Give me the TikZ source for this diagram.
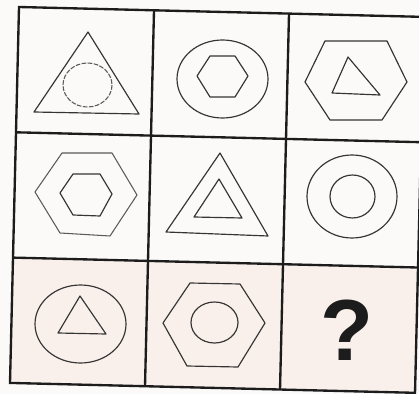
\documentclass[tikz,border=0pt]{standalone}
\usepackage{fontspec}
\setsansfont{Liberation Sans}
\usetikzlibrary{positioning}
\definecolor{PuzzleInk}{HTML}{1C1C1C}
\definecolor{PuzzleLine}{HTML}{353535}
\definecolor{PuzzleSoft}{HTML}{5A5A5A}
\definecolor{PuzzlePaper}{HTML}{FCFAF8}
\definecolor{PuzzleTint}{HTML}{FAF0EB}

\begin{document}
\begin{tikzpicture}[x=0.03cm, y=-0.03cm,
    gridline/.style={draw=PuzzleInk, line width=2pt, line join=miter},
    figline/.style={draw=PuzzleLine, line width=1pt, line join=round},
    softline/.style={draw=PuzzleSoft, line width=0.9pt, line join=round},
    dashline/.style={softline, dash pattern=on 4pt off 1.2pt}]
  \useasboundingbox (0,0) rectangle (419,394);
  \clip (0,0) rectangle (419,394);
  \fill[PuzzlePaper] (0,0) rectangle (419,394);

  % Grid (photographed slightly askew)
  \begin{scope}[shift={(19,7)}, x={(4.05cm,-0.099cm)}, y={(-0.09cm,-3.759cm)}]
    \fill[PuzzleTint] (0,2) -- (3,2) -- (3,3) -- (0,3) -- cycle;
    \draw[gridline] (0,0) -- (3,0) -- (3,3) -- (0,3) -- cycle;
    \foreach \i in {1,2} {
      \draw[gridline] (\i,0) -- (\i,3);
      \draw[gridline] (0,\i) -- (3,\i);
    }
  \end{scope}

  % Row 1
  \draw[figline] (88,32) -- (139,114) -- (34,112) -- cycle;
  \draw[dashline] (87.5,85) ellipse [x radius=24.5, y radius=22];

  \draw[figline] (222.5,79) ellipse [x radius=45.5, y radius=39];
  \draw[figline] (197,76) -- (210,56) -- (235,56) -- (248,76) -- (235,97) -- (210,97) -- cycle;

  \draw[figline] (305,82) -- (325,41) -- (387,41) -- (407,82) -- (382,120) -- (330,120) -- cycle;
  \draw[figline] (348,57) -- (380,95) -- (332,93) -- cycle;

  % Row 2
  \draw[softline] (35,192) -- (62,153) -- (112,153) -- (137,195) -- (110,236) -- (60,233) -- cycle;
  \draw[figline] (60,193) -- (73,174) -- (100,174) -- (112,194) -- (100,216) -- (73,215) -- cycle;

  \draw[figline] (220,153) -- (268,236) -- (166,232) -- cycle;
  \draw[figline] (219,179) -- (242,218) -- (194,217) -- cycle;

  \draw[figline] (352,196.5) ellipse [x radius=45, y radius=41.5];
  \draw[figline] (352.5,196.5) ellipse [x radius=22.5, y radius=21.5];

  % Row 3
  \draw[figline] (80.5,324) ellipse [x radius=45.5, y radius=39];
  \draw[figline] (80,296) -- (106,334) -- (58,333) -- cycle;

  \draw[figline] (163,323) -- (190,283) -- (240,284) -- (265,323) -- (238,367) -- (187,366) -- cycle;
  \draw[figline] (214.5,322.5) ellipse [x radius=23.5, y radius=20.5];

  \node[inner sep=0pt, text=PuzzleInk, font=\sffamily\bfseries\fontsize{74}{80}\selectfont] (ask) at (346.5,330.5) {?};
\end{tikzpicture}
\end{document}
